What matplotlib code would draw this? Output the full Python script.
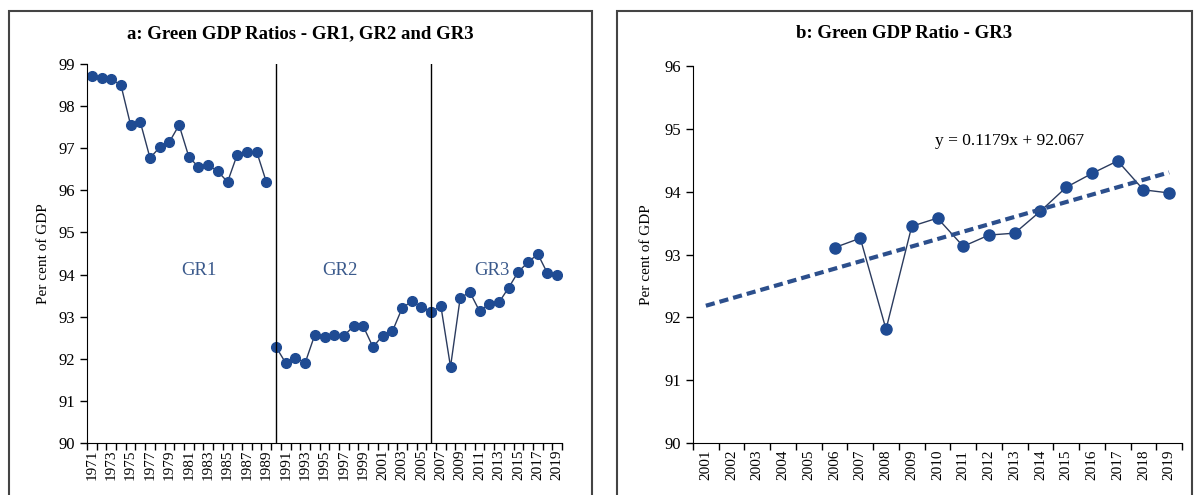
import numpy as np
import matplotlib.pyplot as plt
from matplotlib.patches import Rectangle

plt.rcParams['font.family'] = ['Liberation Serif', 'DejaVu Serif']

# dados
anos_gr1 = list(range(1971, 1990))
gr1 = [98.71, 98.67, 98.64, 98.50, 97.55, 97.62, 96.77, 97.02, 97.15, 97.55,
       96.80, 96.55, 96.60, 96.45, 96.20, 96.85, 96.90, 96.92, 96.20]
anos_gr2 = list(range(1990, 2007))
gr2 = [92.28, 91.90, 92.03, 91.90, 92.57, 92.52, 92.57, 92.55, 92.77, 92.77,
       92.28, 92.55, 92.65, 93.20, 93.37, 93.23, 93.12]
anos_gr3 = list(range(2006, 2020))
gr3 = [93.11, 93.26, 91.81, 93.45, 93.58, 93.13, 93.31, 93.34, 93.69, 94.07,
       94.29, 94.49, 94.03, 93.98]
anos_b = list(range(2001, 2020))
tendencia = [0.1179, 92.067]          # y = 0.1179x + 92.067, x = 1..19
quebras = [1990, 2006]
rotulos_gr = ['GR1', 'GR2', 'GR3']
pos_gr = [1982.0, 1996.6, 2012.3]

cor_ponto = '#1f4b93'
cor_linha = '#2b3b5e'
cor_texto = '#3b5a8c'

fig = plt.figure(figsize=(11.94, 4.95), dpi=100)

# molduras dos dois painéis + títulos centrados nelas
titulos = ['a: Green GDP Ratios - GR1, GR2 and GR3', 'b: Green GDP Ratio - GR3']
for (x0, x1), tit in zip([(9, 592), (617, 1192)], titulos):
    fig.patches.append(Rectangle((x0 / 1194, -0.1), (x1 - x0) / 1194, 1.1 - 11 / 495,
                                 transform=fig.transFigure, fill=False,
                                 edgecolor='#444444', linewidth=1.5))
    fig.text((x0 + x1) / 2 / 1194, 1 - 34 / 495, tit, fontsize=13.5,
             fontweight='bold', ha='center', va='center')

# painel a
ax1 = fig.add_axes([87 / 1194, 0.105, 475 / 1194, 0.7657])
for anos, vals in [(anos_gr1, gr1), (anos_gr2, gr2), (anos_gr3, gr3)]:
    ax1.plot(anos, vals, color=cor_linha, lw=1.0, marker='o', markersize=7,
             markerfacecolor=cor_ponto, markeredgecolor=cor_ponto)
for q in quebras:
    ax1.axvline(q, color='black', lw=1.0)
for txt, xp in zip(rotulos_gr, pos_gr):
    ax1.text(xp, 94.1, txt, color=cor_texto, fontsize=13.5, ha='center', va='center')
ax1.set_xlim(1970.5, 2019.5)
ax1.set_ylim(90, 99)
ax1.set_yticks(range(90, 100))
anos_a = list(range(1971, 2020))
ax1.set_xticks(anos_a[::2])
ax1.set_xticklabels([str(a) for a in anos_a[::2]], rotation=90)
ax1.set_xticks(np.arange(1970.5, 2020, 1), minor=True)
ax1.tick_params(axis='x', which='major', length=0, labelsize=11, pad=5)
ax1.tick_params(axis='x', which='minor', length=5, width=1)
ax1.tick_params(axis='y', length=5, width=1, labelsize=12)
ax1.set_ylabel('Per cent of GDP', fontsize=11, labelpad=6)
for s in ['top', 'right']:
    ax1.spines[s].set_visible(False)

# painel b
ax2 = fig.add_axes([693 / 1194, 0.105, 489 / 1194, 0.7616])
ax2.plot(anos_gr3, gr3, color=cor_linha, lw=1.0, marker='o', markersize=8,
         markerfacecolor=cor_ponto, markeredgecolor=cor_ponto)
xs = np.arange(1, len(anos_b) + 1)
ax2.plot(anos_b, np.polyval(tendencia, xs), color='#2c4f8c', lw=3,
         linestyle=(0, (2.2, 1.2)))
ax2.text(2012.8, 94.8, 'y = 0.1179x + 92.067', fontsize=12.5, ha='center', va='center')
ax2.set_xlim(2000.5, 2019.5)
ax2.set_ylim(90, 96)
ax2.set_xticks(anos_b)
ax2.set_xticklabels([str(a) for a in anos_b], rotation=90)
ax2.set_xticks(np.arange(2000.5, 2020, 1), minor=True)
ax2.tick_params(axis='x', which='major', length=0, labelsize=11, pad=5)
ax2.tick_params(axis='x', which='minor', length=5, width=1)
ax2.tick_params(axis='y', length=5, width=1, labelsize=12)
ax2.set_ylabel('Per cent of GDP', fontsize=11, labelpad=8)
for s in ['top', 'right']:
    ax2.spines[s].set_visible(False)

fig.savefig('out.png', dpi=100)
